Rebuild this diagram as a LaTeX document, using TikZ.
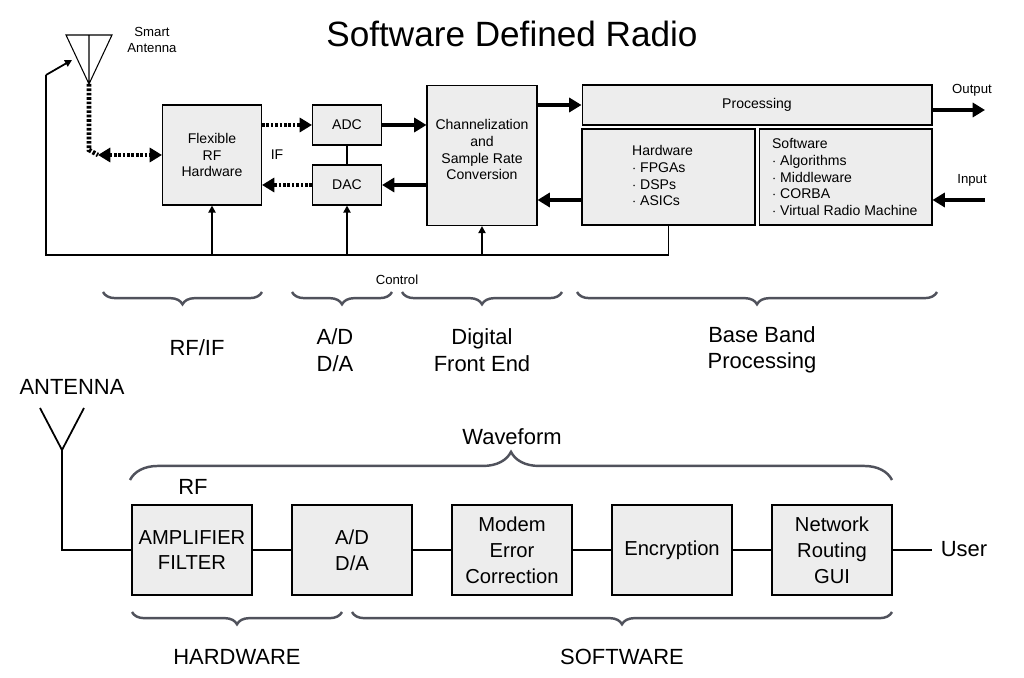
\documentclass[tikz,border=0pt]{standalone}
\usepackage{fontspec}
\setmainfont{Liberation Sans}
\usetikzlibrary{arrows.meta, calc, decorations.pathreplacing}
\definecolor{brcgray}{RGB}{80,82,92}
\tikzset{%
    blk/.style={draw, fill=black!7, line width=0.6pt, inner sep=1pt, align=center, font=\fontsize{8}{9.6}\selectfont},
    txt/.style={inner sep=1pt, align=center, font=\fontsize{8}{9.6}\selectfont},
    bblk/.style={draw, fill=black!7, line width=0.6pt, align=center, font=\fontsize{11.5}{14.7}\selectfont},
    pria/.style={line width=2.2pt, -{Triangle[length=7pt,width=8pt]}},
    dota/.style={line width=2.6pt, dash pattern=on 1.5pt off 1pt, -{Triangle[length=7pt,width=8pt]}},
    seca/.style={line width=1pt, -{Triangle[length=4pt,width=4pt]}},
    sec/.style={line width=1pt},
    brc/.style={decorate, decoration={brace, mirror, amplitude=7pt}, line width=1.4pt, draw=brcgray},
    lbl/.style={font=\fontsize{12.5}{15}\selectfont, align=center},
    sml/.style={font=\fontsize{7.5}{9}\selectfont, align=center},
}
\begin{document}
\begin{tikzpicture}[x=0.02cm, y=-0.02cm]
    \useasboundingbox (0,0) rectangle (1024,678);
    \node[font=\fontsize{20}{24}\selectfont] (title) at (512,34) {Software Defined Radio};
    % upper chain
    \node[blk, minimum width=1.98cm, minimum height=2cm] (flex) at (212,155) {Flexible\\RF\\Hardware};
    \node[blk, minimum width=1.38cm, minimum height=0.8cm] (adc) at (347,125) {ADC};
    \node[blk, minimum width=1.38cm, minimum height=0.8cm] (dac) at (347,185) {DAC};
    \node[blk, minimum width=2.2cm, minimum height=2.8cm, anchor=north] (chan) at (482,85) {};
    \node[txt, anchor=north] at (482,117) {Channelization\\and\\Sample Rate\\Conversion};
    \node[blk, minimum width=7cm, minimum height=0.8cm] (proc) at (757,105) {Processing};
    \node[blk, minimum width=3.46cm, minimum height=1.92cm] (hw) at (668.5,177) {};
    \node[txt, align=left, anchor=north west] at (630,143) {Hardware\\$\cdot$ FPGAs\\$\cdot$ DSPs\\$\cdot$ ASICs};
    \node[blk, minimum width=3.46cm, minimum height=1.92cm] (sw) at (845.5,177) {};
    \node[txt, align=left, anchor=north west] at (770,136) {Software\\$\cdot$ Algorithms\\$\cdot$ Middleware\\$\cdot$ CORBA\\$\cdot$ Virtual Radio Machine};
    % smart antenna
    \coordinate (tl) at (66,35);
    \coordinate (tr) at (112,35);
    \coordinate (ap) at (89,84);
    \draw[line width=0.6pt] (tl) -- (tr) -- (ap) -- cycle (89,35) -- (ap);
    \node[sml] (sa) at (152,40) {Smart\\Antenna};
    \coordinate (bend) at (98,155);
    \draw[line width=2.6pt, dash pattern=on 1.5pt off 1pt] (ap) -- (89,150) -- (bend);
    \draw[dota, {Triangle[length=7pt,width=8pt]}-{Triangle[length=7pt,width=8pt]}] (bend) -- (flex.west);
    \draw[dota] (flex.east |- adc) -- (adc.west);
    \draw[dota] (dac.west) -- (flex.east |- dac);
    \draw[sec] (adc) -- (dac);
    \node[sml, font=\fontsize{8}{9}\selectfont] (if) at (277,155) {IF};
    \draw[pria] (adc.east) -- (chan.west |- adc);
    \draw[pria] (chan.west |- dac) -- (dac.east);
    \draw[pria] (chan.east |- proc) -- (proc.west);
    \draw[pria] (hw.west |- 0,200) -- (chan.east |- 0,200);
    \coordinate (outp) at (985,110);
    \coordinate (inp) at (985,200);
    \draw[pria] (proc.east |- outp) -- (outp);
    \draw[pria] (inp) -- (sw.east |- inp);
    \node[sml] (out) at (972,90) {Output};
    \node[sml] (in) at (972,180) {Input};
    % control bus
    \coordinate (bl) at (46,255);
    \draw[sec] (hw.south) -- (hw.south |- bl) -- (bl) -- (46,75);
    \draw[seca] (46,75) -- (72,60);
    \draw[seca] (flex.south |- bl) -- (flex.south);
    \draw[seca] (dac.south |- bl) -- (dac.south);
    \draw[seca] (chan.south |- bl) -- (chan.south);
    \node[sml] (ctl) at (397,280) {Control};
    % braces
    \draw[brc] (103,292) -- (262,292);
    \draw[brc] (292,292) -- (392,292);
    \draw[brc] (402,292) -- (562,292);
    \draw[brc] (577,292) -- (937,292);
    \node[lbl] (rfif) at (197,348) {RF/IF};
    \node[lbl] (ad) at (335,350) {A/D\\D/A};
    \node[lbl] (dfe) at (482,350) {Digital\\Front End};
    \node[lbl] (bbp) at (762,350) {Base Band\\Processing};
    % lower chain
    \node[lbl] (ant) at (72,387) {ANTENNA};
    \draw[sec] (40,408) -- (62,450) -- (84,408);
    \node[bblk, minimum width=2.4cm, minimum height=1.8cm] (amp) at (192,550) {AMPLIFIER\\FILTER};
    \node[bblk, minimum width=2.4cm, minimum height=1.8cm] (adda) at (352,550) {A/D\\D/A};
    \node[bblk, minimum width=2.4cm, minimum height=1.8cm] (mod) at (512,550) {Modem\\Error\\Correction};
    \node[bblk, minimum width=2.4cm, minimum height=1.8cm] (enc) at (672,550) {Encryption};
    \node[bblk, minimum width=2.4cm, minimum height=1.8cm] (net) at (832,550) {Network\\Routing\\GUI};
    \node[lbl, inner sep=0pt] (user) at (964,549) {User};
    \draw[sec] (62,450) |- (amp.west);
    \draw[sec] (amp) -- (adda);
    \draw[sec] (adda) -- (mod);
    \draw[sec] (mod) -- (enc);
    \draw[sec] (enc) -- (net);
    \draw[sec] (net.east) -- ([xshift=-5pt]user.west |- net.east);
    \node[lbl] (rf) at (193,487) {RF};
    \draw[brc, decoration={brace, amplitude=16pt}] (892,480) -- (130,480);
    \node[lbl] (wf) at (512,437) {Waveform};
    \draw[brc] (132,612) -- (342,612);
    \draw[brc] (352,612) -- (892,612);
    \node[lbl] (hwl) at (237,657) {HARDWARE};
    \node[lbl] (swl) at (622,657) {SOFTWARE};
\end{tikzpicture}
\end{document}
